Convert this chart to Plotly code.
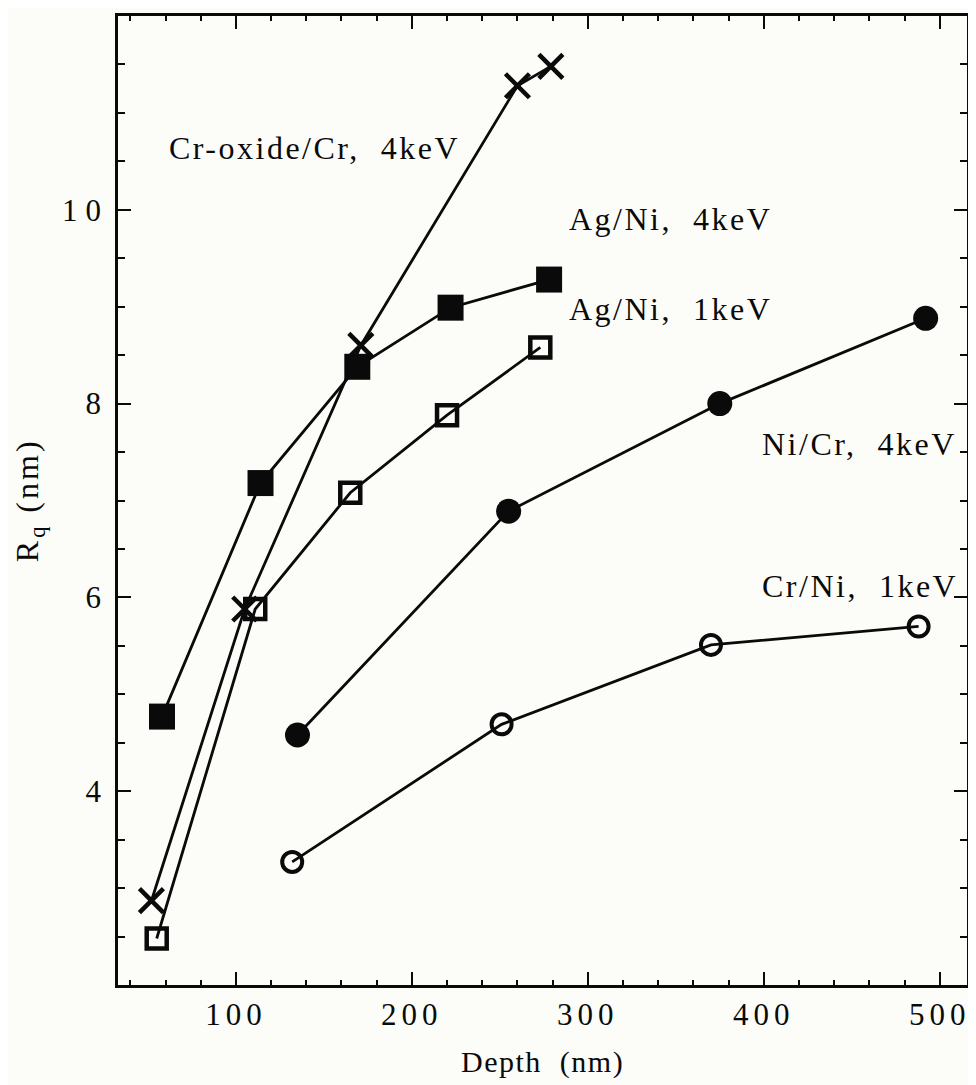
import plotly.graph_objects as go

# Data
depth_crox = [52, 105, 171, 260, 279]
rq_crox = [2.87, 5.88, 8.60, 11.28, 11.48]

depth_agni4 = [58, 114, 169, 222, 278]
rq_agni4 = [4.77, 7.18, 8.38, 8.99, 9.28]

depth_agni1 = [55, 111, 165, 220, 273]
rq_agni1 = [2.48, 5.88, 7.08, 7.88, 8.58]

depth_nicr4 = [135, 255, 375, 492]
rq_nicr4 = [4.58, 6.89, 8.00, 8.88]

depth_crni1 = [132, 251, 370, 488]
rq_crni1 = [3.27, 4.69, 5.51, 5.70]

x_tickvals = [100, 200, 300, 400, 500]
x_ticklabels = ["100", "200", "300", "400", "500"]
y_tickvals = [4, 6, 8, 10]
y_ticklabels = ["4", "6", "8", "10"]

labels = ["Cr-oxide/Cr,  4keV", "Ag/Ni,  4keV", "Ag/Ni,  1keV", "Ni/Cr,  4keV", "Cr/Ni,  1keV"]
label_x = [61, 288, 288, 398, 398]
label_y = [10.64, 9.90, 8.98, 7.58, 6.12]

x_title = "Depth  (nm)"
y_title = "R<sub>q</sub> (nm)"

FONT = "Liberation Serif, Times New Roman, serif"
INK = "#0a0a0a"
LW = 2.8


def spaced(s, px):
    s = s.replace("  ", "\u00a0\u00a0")
    return f"<span style='letter-spacing:{px}px'>{s}</span>"


fig = go.Figure()

fig.add_trace(go.Scatter(x=depth_crox, y=rq_crox, mode="lines+markers",
                         line=dict(color=INK, width=LW),
                         marker=dict(symbol="x-thin", size=24, line=dict(color=INK, width=4.5))))
fig.add_trace(go.Scatter(x=depth_agni4, y=rq_agni4, mode="lines+markers",
                         line=dict(color=INK, width=LW),
                         marker=dict(symbol="square", size=26, color=INK, line=dict(width=0))))
fig.add_trace(go.Scatter(x=depth_agni1, y=rq_agni1, mode="lines+markers",
                         line=dict(color=INK, width=LW),
                         marker=dict(symbol="square-open", size=20, color=INK, line=dict(color=INK, width=4.5))))
fig.add_trace(go.Scatter(x=depth_nicr4, y=rq_nicr4, mode="lines+markers",
                         line=dict(color=INK, width=LW),
                         marker=dict(symbol="circle", size=25, color=INK, line=dict(width=0))))
fig.add_trace(go.Scatter(x=depth_crni1, y=rq_crni1, mode="lines+markers",
                         line=dict(color=INK, width=LW),
                         marker=dict(symbol="circle-open", size=20, color=INK, line=dict(color=INK, width=4))))

for t, xx, yy in zip(labels, label_x, label_y):
    fig.add_annotation(x=xx, y=yy, text=spaced(t, 2.5), showarrow=False, xanchor="left", yanchor="middle",
                       font=dict(family=FONT, size=32, color=INK))

# axis titles as annotations for precise placement
fig.add_annotation(xref="paper", yref="paper", x=0.5, y=-0.079, text=spaced(x_title, 1.5),
                   showarrow=False, xanchor="center", yanchor="middle",
                   font=dict(family=FONT, size=30, color=INK))
fig.add_annotation(xref="paper", yref="paper", x=-0.104, y=0.5, text=spaced(y_title, 3),
                   showarrow=False, xanchor="center", yanchor="middle", textangle=-90,
                   font=dict(family=FONT, size=32, color=INK))

axis_common = dict(showgrid=False, zeroline=False, showline=True, linecolor=INK, linewidth=2.5,
                   mirror="ticks", ticks="inside", ticklen=13, tickwidth=2, tickcolor=INK,
                   ticklabeloverflow="allow",
                   tickfont=dict(family=FONT, size=31, color=INK))

fig.update_xaxes(range=[33, 515.5], tickvals=x_tickvals,
                 ticktext=[spaced(t, 5) for t in x_ticklabels],
                 minor=dict(dtick=20, tick0=0, ticks="inside", ticklen=5, tickwidth=1.5, tickcolor=INK),
                 **axis_common)
fig.update_yaxes(range=[2, 12], tickvals=y_tickvals,
                 ticktext=[spaced(t, 8) for t in y_ticklabels],
                 minor=dict(dtick=0.5, tick0=0, ticks="inside", ticklen=7, tickwidth=1.5, tickcolor=INK),
                 **axis_common)

fig.update_layout(width=968, height=1077, showlegend=False,
                  margin=dict(l=110, r=9, t=5, b=100),
                  paper_bgcolor="#fcfdf9", plot_bgcolor="#fcfdf9")

fig.write_html("out.html")
